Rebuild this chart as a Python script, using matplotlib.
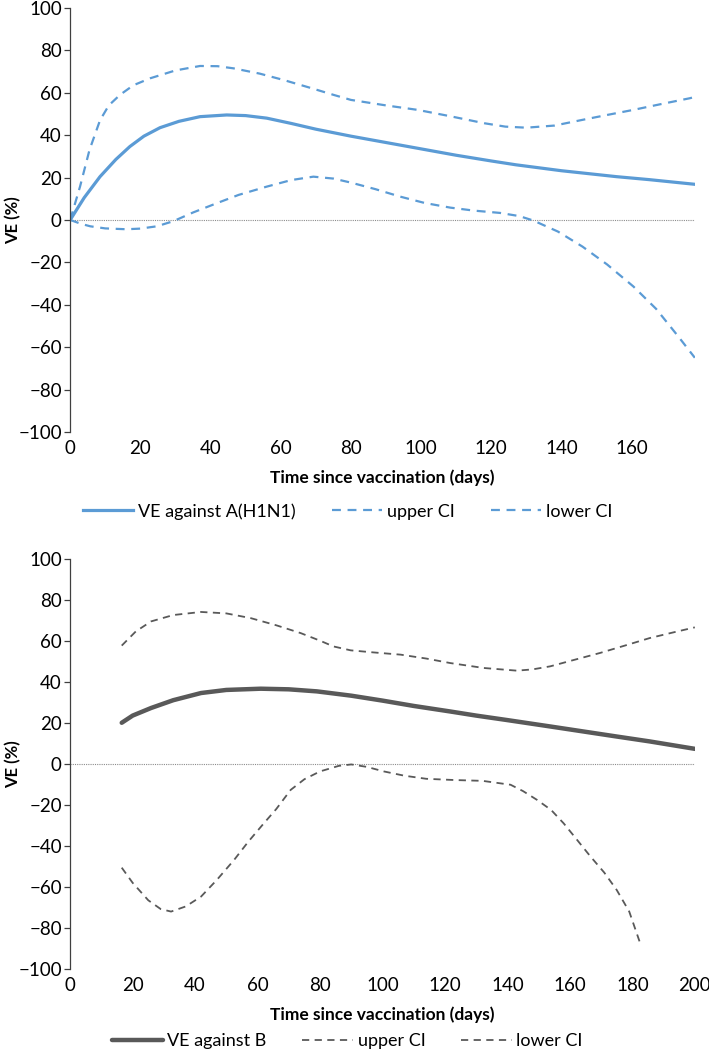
import matplotlib
matplotlib.use("Agg")
import matplotlib.pyplot as plt

plt.rcParams['font.family'] = ['Lato', 'DejaVu Sans']

# A(H1N1) panel
days_a = [0, 4, 8.5, 13, 17, 21, 25.6, 31, 37, 44.6, 50, 56, 63, 70, 80, 90, 99, 110, 120, 127, 140, 155.7, 165, 178]
ve_a = [0, 10.5, 20.4, 28.5, 34.6, 39.5, 43.5, 46.5, 48.7, 49.5, 49.2, 48, 45.5, 42.8, 39.5, 36.5, 33.8, 30.5, 27.8, 26, 23.2, 20.4, 19, 16.8]

days_a_up = [0, 2.8, 5.5, 8.5, 11, 14.2, 18, 22.8, 30, 37, 42, 46.5, 54, 60.8, 68, 75, 80, 90, 99, 108, 118, 124, 130, 138, 146, 153, 160.5, 168, 176.6, 178]
up_a = [0, 15.7, 33, 47, 54, 59, 63.5, 66.8, 70.5, 72.6, 72.5, 71.5, 69, 66, 62.5, 59, 56.6, 54, 51.9, 49, 45.6, 44, 43.5, 44.5, 47.2, 49.5, 51.9, 54.5, 57.4, 58]

days_a_lo = [0, 3, 5.7, 10, 16, 20, 24.7, 29.4, 35, 41.8, 48, 56, 63, 69.3, 75, 80, 87, 94, 101, 108.3, 115, 122.5, 128, 132, 139, 146, 153, 160.5, 167, 173.3, 178]
lo_a = [0, -1.8, -3, -4, -4.4, -4.1, -3, -0.6, 3.5, 7.9, 11.8, 15.7, 18.8, 20.4, 19.5, 17.6, 14.5, 11, 8, 5.8, 4.4, 3.3, 1.8, -0.3, -5.5, -12.6, -21, -31.4, -42, -55, -65]

# B panel
days_b = [16.5, 20, 25.9, 33, 41.9, 50, 61, 70, 79, 90, 100, 110, 121.7, 130, 140, 153.7, 165, 175, 185.6, 200]
ve_b = [20, 23.5, 27.2, 31, 34.5, 36, 36.6, 36.3, 35.3, 33.2, 30.8, 28.2, 25.5, 23.5, 21.3, 18.2, 15.6, 13.3, 10.9, 7.3]

days_b_up = [16.5, 21, 25.9, 33, 41.9, 50, 57.8, 66, 73.8, 80, 84.3, 89.8, 97, 105.8, 114, 121.7, 132.4, 143, 148, 153.7, 161, 169.6, 178, 185.6, 193, 200]
up_b = [57.6, 64.5, 69.4, 72.5, 74, 73.3, 71, 67.5, 63.7, 60, 57.2, 55.3, 54.3, 53.2, 51.3, 49.1, 46.7, 45.4, 46, 47.5, 50.5, 54, 57.8, 61.3, 64, 66.5]

days_b_lo = [16.5, 20, 25, 29, 32.3, 37, 41.9, 47, 52.5, 57, 62, 66, 70.6, 75, 80, 86, 90, 95, 100.4, 107, 114, 123, 132, 141, 145, 149.5, 154, 158, 162, 166.5, 171, 175, 179, 182.4]
lo_b = [-50.6, -58, -66.5, -70.8, -72, -69.5, -64.7, -56.5, -46.8, -38, -29, -22, -12.7, -7.5, -3.7, -1, -0.3, -1.5, -3.7, -5.8, -7.3, -7.9, -8.3, -10.2, -13.3, -17.6, -22.5, -29, -36.5, -45, -53, -61.5, -72, -87]

blue = '#5B9BD5'
grey = '#595959'

fig = plt.figure(figsize=(7.09, 10.51), dpi=100)
ax1 = fig.add_axes([0.099, 0.589, 0.881, 0.4035])
ax2 = fig.add_axes([0.099, 0.078, 0.881, 0.3905])


def style(ax, xmax, xticks):
    ax.set_xlim(0, xmax)
    ax.set_ylim(-100, 100)
    ax.set_yticks(range(-100, 101, 20))
    ax.set_xticks(xticks)
    ax.axhline(0, color='#8c8c8c', lw=0.8, ls=(0, (1, 1)), zorder=1)
    for s in ['top', 'right', 'bottom']:
        ax.spines[s].set_visible(False)
    ax.spines['left'].set_color('#404040')
    ax.spines['left'].set_linewidth(0.9)
    ax.tick_params(axis='y', length=4, width=0.9, color='#404040', labelsize=13.5, pad=2)
    ax.tick_params(axis='x', length=0, labelsize=13.5, pad=6)
    ax.set_ylabel('VE (%)', fontsize=12, fontweight='bold')
    ax.yaxis.set_label_coords(-0.078, 0.5)
    ax.set_xlabel('Time since vaccination (days)', fontsize=12.5, fontweight='bold', labelpad=9)


style(ax1, 178, range(0, 161, 20))
ax1.plot(days_a, ve_a, color=blue, lw=2.3, label='VE against A(H1N1)')
ax1.plot(days_a_up, up_a, color=blue, lw=1.6, ls=(0, (4, 3)), label='upper CI')
ax1.plot(days_a_lo, lo_a, color=blue, lw=1.6, ls=(0, (4, 3)), label='lower CI')
ax1.legend(loc='center', bbox_to_anchor=(0.49, 0.5135), bbox_transform=fig.transFigure,
           ncol=3, frameon=False, fontsize=13, handlelength=2.8, columnspacing=2.0, handletextpad=0.25)

style(ax2, 200, range(0, 201, 20))
ax2.plot(days_b, ve_b, color=grey, lw=3.2, solid_capstyle='round', label='VE against B')
ax2.plot(days_b_up, up_b, color=grey, lw=1.3, ls=(0, (4, 3)), label='upper CI')
ax2.plot(days_b_lo, lo_b, color=grey, lw=1.3, ls=(0, (4, 3)), label='lower CI')
ax2.legend(loc='center', bbox_to_anchor=(0.49, 0.0095), bbox_transform=fig.transFigure,
           ncol=3, frameon=False, fontsize=13, handlelength=2.8, columnspacing=2.0, handletextpad=0.25)

fig.savefig('out.png', dpi=100)
